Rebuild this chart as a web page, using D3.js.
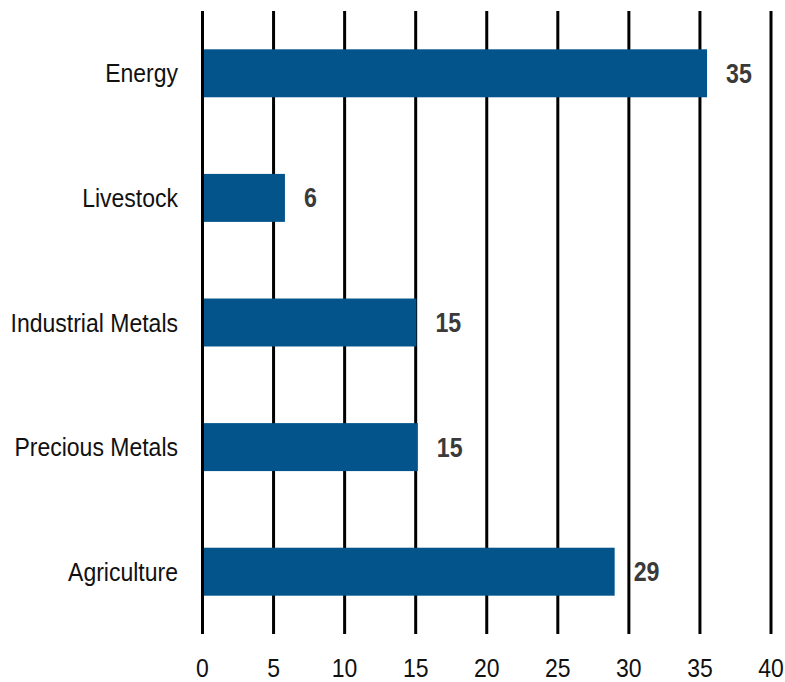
<!DOCTYPE html>
<html lang="en">
<head>
    <meta charset="UTF-8">
    <title>Commodity weights</title>
    <script type="application/javascript" src="https://cdnjs.cloudflare.com/ajax/libs/d3/7.8.5/d3.min.js"></script>
    <style type="text/css">
        body { margin: 0; background: #fff; }
        text { font-family: "Liberation Sans", Arial, sans-serif; }
    </style>
</head>
<body>
<svg id="chart" width="785" height="682"></svg>
<script type="application/javascript">
    // data
    var categories = ['Energy', 'Livestock', 'Industrial Metals', 'Precious Metals', 'Agriculture'];
    var values = [35.5, 5.8, 15.05, 15.15, 29.0];
    var valueLabels = ['35', '6', '15', '15', '29'];
    var xTicks = [0, 5, 10, 15, 20, 25, 30, 35, 40];

    var svg = d3.select('#chart');
    var SQUEEZE = 0.92; // the source font is a bit condensed

    var x = d3.scaleLinear()
            .domain([0, 40])
            .range([202.5, 771]);

    var y = d3.scaleBand()
            .domain(categories)
            .range([11, 634])
            .paddingInner(0.615)
            .paddingOuter(0.3075);

    // vertical grid lines
    svg.append('g')
            .selectAll('line')
            .data(xTicks)
            .enter()
            .append('line')
            .attr('x1', function (d) { return x(d); })
            .attr('x2', function (d) { return x(d); })
            .attr('y1', 11)
            .attr('y2', 634)
            .attr('stroke', '#000')
            .attr('stroke-width', 3);

    // bars
    svg.append('g')
            .selectAll('rect')
            .data(categories)
            .enter()
            .append('rect')
            .attr('x', x(0) + 1.5)
            .attr('y', function (d) { return y(d); })
            .attr('width', function (d, i) { return x(values[i]) - x(0) - 1.5; })
            .attr('height', y.bandwidth())
            .attr('fill', '#02548a');

    function squeezed(sel, sx) {
        return sel.attr('transform', function (d) {
            return 'translate(' + d.px + ',' + d.py + ') scale(' + sx + ',1)';
        });
    }

    // category labels
    var catData = categories.map(function (c) {
        return {t: c, px: 178, py: y(c) + y.bandwidth() / 2 + 9};
    });
    squeezed(svg.append('g').selectAll('text')
            .data(catData)
            .enter()
            .append('text'), SQUEEZE)
            .attr('text-anchor', 'end')
            .attr('font-size', 25)
            .attr('fill', '#111')
            .text(function (d) { return d.t; });

    // value labels
    var valData = categories.map(function (c, i) {
        return {t: valueLabels[i], px: x(values[i]) + 19, py: y(c) + y.bandwidth() / 2 + 9.5};
    });
    squeezed(svg.append('g').selectAll('text')
            .data(valData)
            .enter()
            .append('text'), 0.86)
            .attr('text-anchor', 'start')
            .attr('font-size', 27)
            .attr('font-weight', 'bold')
            .attr('fill', '#3a3a3a')
            .text(function (d) { return d.t; });

    // x tick labels
    var tickData = xTicks.map(function (t) {
        return {t: '' + t, px: x(t), py: 677};
    });
    squeezed(svg.append('g').selectAll('text')
            .data(tickData)
            .enter()
            .append('text'), SQUEEZE)
            .attr('text-anchor', 'middle')
            .attr('font-size', 25)
            .attr('fill', '#111')
            .text(function (d) { return d.t; });
</script>
</body>
</html>
